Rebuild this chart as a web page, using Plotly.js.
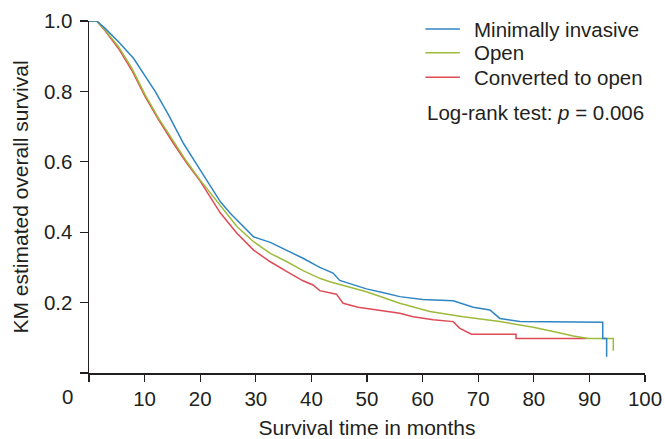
<!DOCTYPE html>
<html>
<head>
<meta charset="utf-8">
<script src="https://cdn.plot.ly/plotly-3.0.1.min.js"></script>
<style>html,body{margin:0;padding:0;background:#fff;}#chart{width:665px;height:439px;}</style>
</head>
<body>
<div id="chart"></div>
<script>
// Minimally invasive
const miTime = [0, 1.4, 2.9, 5.3, 8.0, 9.8, 11.9, 14.3, 17.0, 19.0, 21.2, 23.6, 25.4, 26.6, 29.6, 32.6, 35.6, 38.5, 41.5, 43.9, 45.1, 49.9, 53.0, 55.9, 60.0, 65.5, 69.1, 72.1, 73.9, 77.5, 92.4, 92.4, 93.1, 93.1];
const miSurv = [1, 1, 0.979, 0.941, 0.894, 0.851, 0.800, 0.733, 0.652, 0.602, 0.548, 0.487, 0.454, 0.435, 0.387, 0.371, 0.349, 0.326, 0.300, 0.284, 0.263, 0.239, 0.228, 0.217, 0.209, 0.205, 0.187, 0.179, 0.155, 0.146, 0.144, 0.098, 0.098, 0.046];
// Open
const openTime = [0, 1.4, 2.9, 5.3, 7.7, 10.1, 12.5, 15.2, 17.6, 20.0, 24.2, 26.6, 29.6, 32.6, 35.6, 38.5, 41.5, 43.3, 49.9, 55.9, 61.3, 67.3, 73.9, 79.9, 84.1, 87.1, 89.8, 94.3, 94.3];
const openSurv = [1, 1, 0.974, 0.927, 0.866, 0.790, 0.724, 0.657, 0.600, 0.548, 0.463, 0.416, 0.373, 0.340, 0.316, 0.291, 0.269, 0.259, 0.231, 0.198, 0.175, 0.160, 0.146, 0.130, 0.116, 0.105, 0.098, 0.098, 0.063];
// Converted to open
const convTime = [0, 1.4, 2.9, 5.3, 7.7, 10.1, 12.5, 15.2, 17.6, 20.0, 23.6, 26.6, 29.6, 32.6, 35.6, 38.5, 40.3, 41.5, 44.5, 45.7, 48.4, 53.5, 55.9, 58.3, 61.9, 65.5, 66.7, 68.8, 76.8, 76.8, 89.5];
const convSurv = [1, 1, 0.972, 0.922, 0.860, 0.785, 0.720, 0.652, 0.596, 0.545, 0.455, 0.397, 0.349, 0.316, 0.288, 0.262, 0.250, 0.234, 0.224, 0.198, 0.187, 0.176, 0.170, 0.160, 0.151, 0.146, 0.127, 0.110, 0.110, 0.098, 0.098];

const seriesNames = ['Minimally invasive', 'Open', 'Converted to open'];
const seriesColors = ['#2f86c2', '#9dbb3a', '#de4a55'];
const xTickVals = [0, 10, 20, 30, 40, 50, 60, 70, 80, 90, 100];
const xTickText = ['', '10', '20', '30', '40', '50', '60', '70', '80', '90', '100'];
const yTickVals = [0, 0.2, 0.4, 0.6, 0.8, 1.0];
const yTickText = ['', '0.2', '0.4', '0.6', '0.8', '1.0'];

const ink = '#231f20';
const font = 'Liberation Sans, Arial, Helvetica, sans-serif';
const allT = [miTime, openTime, convTime];
const allS = [miSurv, openSurv, convSurv];

// draw order: converted (bottom), open, minimally invasive (top)
const order = [2, 1, 0];
const traces = order.map(i => ({
  type: 'scatter', mode: 'lines', x: allT[i], y: allS[i], name: seriesNames[i],
  line: {color: seriesColors[i], width: 1.5, shape: 'linear'}, showlegend: false, hoverinfo: 'skip'
}));

// legend geometry (paper coordinates)
const legX0 = 0.605, legX1 = 0.667, legTextX = 0.689;
const legRowsY = [0.977, 0.910, 0.840];
const shapes = seriesNames.map((n, i) => ({
  type: 'line', xref: 'paper', yref: 'paper', x0: legX0, x1: legX1, y0: legRowsY[i], y1: legRowsY[i],
  line: {color: seriesColors[i], width: 1.5}
}));
const annotations = seriesNames.map((n, i) => ({
  xref: 'paper', yref: 'paper', x: legTextX, y: legRowsY[i], xanchor: 'left', yanchor: 'middle',
  text: n, showarrow: false, font: {family: font, size: 20.5, color: ink}
}));
annotations.push({
  xref: 'paper', yref: 'paper', x: 0.604, y: 0.739, xanchor: 'left', yanchor: 'middle',
  text: 'Log-rank test: <i>p</i> = 0.006', showarrow: false, font: {family: font, size: 20.5, color: ink}
});
annotations.push({
  xref: 'paper', yref: 'paper', x: -0.038, y: -0.068, xanchor: 'center', yanchor: 'middle',
  text: '0', showarrow: false, font: {family: font, size: 20.5, color: ink}
});

const layout = {
  width: 665, height: 439,
  margin: {l: 89, r: 20, t: 21, b: 66, pad: 0},
  paper_bgcolor: '#fff', plot_bgcolor: '#fff',
  font: {family: font, color: ink, size: 20.5},
  xaxis: {
    range: [0, 100], tickvals: xTickVals, ticktext: xTickText,
    showgrid: false, zeroline: false, showline: true, linecolor: ink, linewidth: 1.5,
    ticks: 'outside', ticklen: 7, tickwidth: 1.3, tickcolor: ink,
    tickfont: {family: font, size: 20.5, color: ink},
    title: {text: 'Survival time in months', font: {family: font, size: 21, color: ink}, standoff: 14}
  },
  yaxis: {
    range: [0, 1], tickvals: yTickVals, ticktext: yTickText,
    showgrid: false, zeroline: false, showline: true, linecolor: ink, linewidth: 1.5,
    ticks: 'outside', ticklen: 8, tickwidth: 1.3, tickcolor: ink,
    tickfont: {family: font, size: 20.5, color: ink}, ticklabelstandoff: 3,
    title: {text: 'KM estimated overall survival', font: {family: font, size: 21, color: ink}, standoff: 9}
  },
  shapes: shapes,
  annotations: annotations,
  showlegend: false
};

Plotly.newPlot('chart', traces, layout, {staticPlot: true, displayModeBar: false});
</script>
</body>
</html>
